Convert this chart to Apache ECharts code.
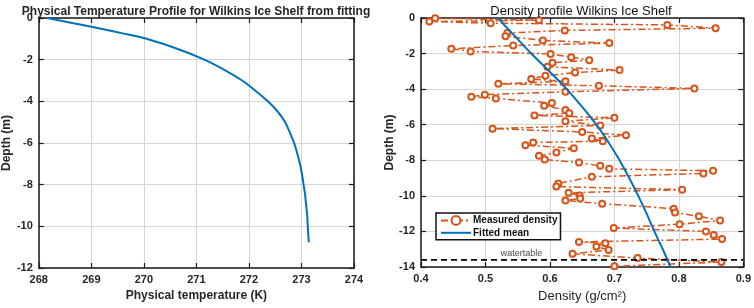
<!DOCTYPE html>
<html>
<head>
<meta charset="utf-8">
<script src="https://cdn.jsdelivr.net/npm/echarts@6/dist/echarts.min.js"></script>
<style>html,body{margin:0;padding:0;background:#fff}#c{width:754px;height:308px}</style>
</head>
<body>
<div id="c"></div>
<script>
// ---- Left chart: physical temperature profile (fitted) ----
var tempK     = [268.16, 268.66, 269.16, 269.62, 270.05, 270.66, 271.15, 271.54, 271.87, 272.13, 272.36, 272.55, 272.69, 272.78, 272.86, 272.92, 272.97, 273.01, 273.04, 273.07, 273.09, 273.11, 273.12, 273.14];
var tempDepth = [0.00, -0.25, -0.50, -0.75, -1.00, -1.50, -2.00, -2.50, -3.00, -3.50, -4.00, -4.50, -5.00, -5.50, -6.00, -6.50, -7.00, -7.50, -8.00, -8.50, -9.00, -9.50, -10.00, -10.77];
var tempXTicks = [268, 269, 270, 271, 272, 273, 274];
var tempYTicks = [0, -2, -4, -6, -8, -10, -12];

// ---- Right chart: density profile ----
var measDensity = [0.422,0.583,0.413,0.508,0.782,0.857,0.623,0.534,0.531,0.589,0.692,0.543,0.447,0.477,0.601,0.633,0.661,0.604,0.596,0.708,
  0.639,0.593,0.571,0.624,0.520,0.676,0.824,0.624,0.499,0.478,0.516,0.603,0.591,0.624,0.630,0.576,0.700,0.624,0.678,0.511,
  0.650,0.718,0.665,0.682,0.574,0.562,0.637,0.610,0.583,0.592,0.645,0.678,0.692,0.853,0.838,0.665,0.613,0.610,0.805,0.629,
  0.646,0.647,0.624,0.681,0.792,0.794,0.831,0.864,0.801,0.699,0.842,0.854,0.867,0.645,0.686,0.672,0.691,0.635,0.736,0.866,0.700];
var measDepth = [-0.02,-0.12,-0.20,-0.29,-0.39,-0.57,-0.70,-0.84,-1.03,-1.26,-1.41,-1.55,-1.73,-1.88,-2.02,-2.20,-2.37,-2.52,-2.74,-2.93,
  -3.07,-3.25,-3.43,-3.56,-3.70,-3.81,-3.96,-4.15,-4.31,-4.43,-4.52,-4.78,-4.93,-5.17,-5.35,-5.48,-5.61,-5.81,-6.04,-6.22,
  -6.41,-6.59,-6.78,-6.93,-7.00,-7.15,-7.33,-7.56,-7.74,-7.96,-8.13,-8.31,-8.48,-8.59,-8.74,-8.93,-9.30,-9.48,-9.65,-9.83,
  -9.98,-10.15,-10.26,-10.44,-10.72,-10.94,-11.15,-11.39,-11.59,-11.81,-12.00,-12.20,-12.43,-12.59,-12.67,-12.85,-13.04,-13.26,-13.50,-13.72,-13.96];
var fitDensity = [0.519,0.545,0.571,0.599,0.626,0.650,0.672,0.691,0.708,0.723,0.737,0.750,0.762,0.775,0.787];
var fitDepth   = [0,-1,-2,-3,-4,-5,-6,-7,-8,-9,-10,-11,-12,-13,-14];
var densXTicks = [0.4, 0.5, 0.6, 0.7, 0.8, 0.9];
var densYTicks = [0, -2, -4, -6, -8, -10, -12, -14];
var watertableDepth = -13.6;
var watertableLabelPos = [0.556, -13.25];

function zip(a, b) { return a.map(function (v, i) { return [v, b[i]]; }); }

var FONT = 'Liberation Sans, Arial, sans-serif';
var TXT = '#262626';
var BLUE = '#0072BD', ORANGE = '#D95319';

function mainX(gi, ticks, name, nameBold, fs, gap) {
  return {
    type: 'value', gridIndex: gi, min: ticks[0], max: ticks[ticks.length - 1],
    interval: +(ticks[1] - ticks[0]).toFixed(6), position: 'bottom',
    name: name, nameLocation: 'middle', nameGap: gap,
    nameTextStyle: { fontFamily: FONT, fontSize: fs, fontWeight: nameBold ? 'bold' : 'normal', color: TXT },
    axisLine: { show: true, onZero: false, lineStyle: { color: '#1a1a1a', width: 1.5 } },
    axisTick: { show: true, inside: true, length: 5, lineStyle: { color: '#1a1a1a', width: 1.2 } },
    axisLabel: { fontFamily: FONT, fontSize: 11, fontWeight: 'bold', color: TXT, margin: 6,
      formatter: function (v) { return ticks.length === 6 ? v.toFixed(1) : String(v); } },
    splitLine: { show: true, lineStyle: { color: '#d6d6d6', width: 1 } }
  };
}
function topX(gi, ticks) {
  return {
    type: 'value', gridIndex: gi, min: ticks[0], max: ticks[ticks.length - 1],
    interval: +(ticks[1] - ticks[0]).toFixed(6), position: 'top',
    axisLine: { show: true, onZero: false, lineStyle: { color: '#1a1a1a', width: 1.5 } },
    axisTick: { show: true, inside: true, length: 5, lineStyle: { color: '#1a1a1a', width: 1.2 } },
    axisLabel: { show: false }, splitLine: { show: false }
  };
}
function mainY(gi, ticks, gap) {
  return {
    type: 'value', gridIndex: gi, min: ticks[ticks.length - 1], max: ticks[0],
    interval: 2, position: 'left',
    name: 'Depth (m)', nameLocation: 'middle', nameGap: gap,
    nameTextStyle: { fontFamily: FONT, fontSize: 12, fontWeight: 'bold', color: TXT },
    axisLine: { show: true, onZero: false, lineStyle: { color: '#1a1a1a', width: 1.5 } },
    axisTick: { show: true, inside: true, length: 5, lineStyle: { color: '#1a1a1a', width: 1.2 } },
    axisLabel: { fontFamily: FONT, fontSize: 11, fontWeight: 'bold', color: TXT, margin: 6 },
    splitLine: { show: true, lineStyle: { color: '#d6d6d6', width: 1 } }
  };
}
function rightY(gi, ticks) {
  return {
    type: 'value', gridIndex: gi, min: ticks[ticks.length - 1], max: ticks[0],
    interval: 2, position: 'right',
    axisLine: { show: true, onZero: false, lineStyle: { color: '#1a1a1a', width: 1.5 } },
    axisTick: { show: true, inside: true, length: 5, lineStyle: { color: '#1a1a1a', width: 1.2 } },
    axisLabel: { show: false }, splitLine: { show: false }
  };
}

var chart = echarts.init(document.getElementById('c'), null, { renderer: 'canvas' });
chart.setOption({
  animation: false,
  backgroundColor: '#fff',
  textStyle: { fontFamily: FONT },
  title: [
    { text: 'Physical Temperature Profile for Wilkins Ice Shelf from fitting', left: 191, top: 1, textAlign: 'center',
      textStyle: { fontFamily: FONT, fontSize: 12, fontWeight: 'bold', color: TXT } },
    { text: 'Density profile Wilkins Ice Shelf', left: 576, top: 0, textAlign: 'center',
      textStyle: { fontFamily: FONT, fontSize: 13, fontWeight: 'normal', color: '#111' } }
  ],
  grid: [
    { left: 37, top: 18, width: 317, height: 250 },
    { left: 421, top: 18, width: 324, height: 252 }
  ],
  xAxis: [
    mainX(0, tempXTicks, 'Physical temperature (K)', true, 12, 21),
    topX(0, tempXTicks),
    mainX(1, densXTicks, 'Density (g/cm²)', false, 13, 23),
    topX(1, densXTicks)
  ],
  yAxis: [
    mainY(0, tempYTicks, 22),
    rightY(0, tempYTicks),
    mainY(1, densYTicks, 25),
    rightY(1, densYTicks)
  ],
  legend: {
    left: 436, top: 213, orient: 'vertical', itemGap: 2, itemWidth: 30, itemHeight: 11,
    padding: [2, 3, 2, 4], backgroundColor: '#fff', borderColor: '#111', borderWidth: 1.5,
    textStyle: { fontFamily: FONT, fontSize: 10, fontWeight: 'bold', color: '#111', padding: [0, 0, 0, -3] },
    data: [
      { name: 'Measured density' },
      { name: 'Fitted mean', icon: 'path://M0,0 L30,0 L30,2 L0,2 Z', itemStyle: { color: BLUE } }
    ]
  },
  series: [
    { type: 'line', name: 'Temperature', xAxisIndex: 0, yAxisIndex: 0, data: zip(tempK, tempDepth),
      smooth: 0.2, symbol: 'none', lineStyle: { color: BLUE, width: 2 } },
    { type: 'line', name: 'Measured density', xAxisIndex: 2, yAxisIndex: 2, data: zip(measDensity, measDepth),
      symbol: 'emptyCircle', symbolSize: 6, showSymbol: true, showAllSymbol: true, color: ORANGE,
      itemStyle: { color: ORANGE, borderColor: ORANGE, borderWidth: 1.5 },
      lineStyle: { color: ORANGE, width: 1.5, type: [7, 3, 2, 3] }, z: 3 },
    { type: 'line', name: 'Fitted mean', xAxisIndex: 2, yAxisIndex: 2, data: zip(fitDensity, fitDepth),
      smooth: 0.3, symbol: 'none', color: BLUE, lineStyle: { color: BLUE, width: 2 }, z: 4 },
    { type: 'line', name: 'watertable', xAxisIndex: 2, yAxisIndex: 2,
      data: [[densXTicks[0], watertableDepth], [densXTicks[densXTicks.length - 1], watertableDepth]],
      symbol: 'none', lineStyle: { color: '#000', width: 1.8, type: [6, 4] }, z: 5 },
    { type: 'scatter', name: 'wtlabel', xAxisIndex: 2, yAxisIndex: 2, data: [watertableLabelPos], symbolSize: 0,
      label: { show: true, position: 'inside', formatter: 'watertable', fontFamily: FONT, fontSize: 9, color: '#111' }, z: 6 }
  ]
});
</script>
</body>
</html>
